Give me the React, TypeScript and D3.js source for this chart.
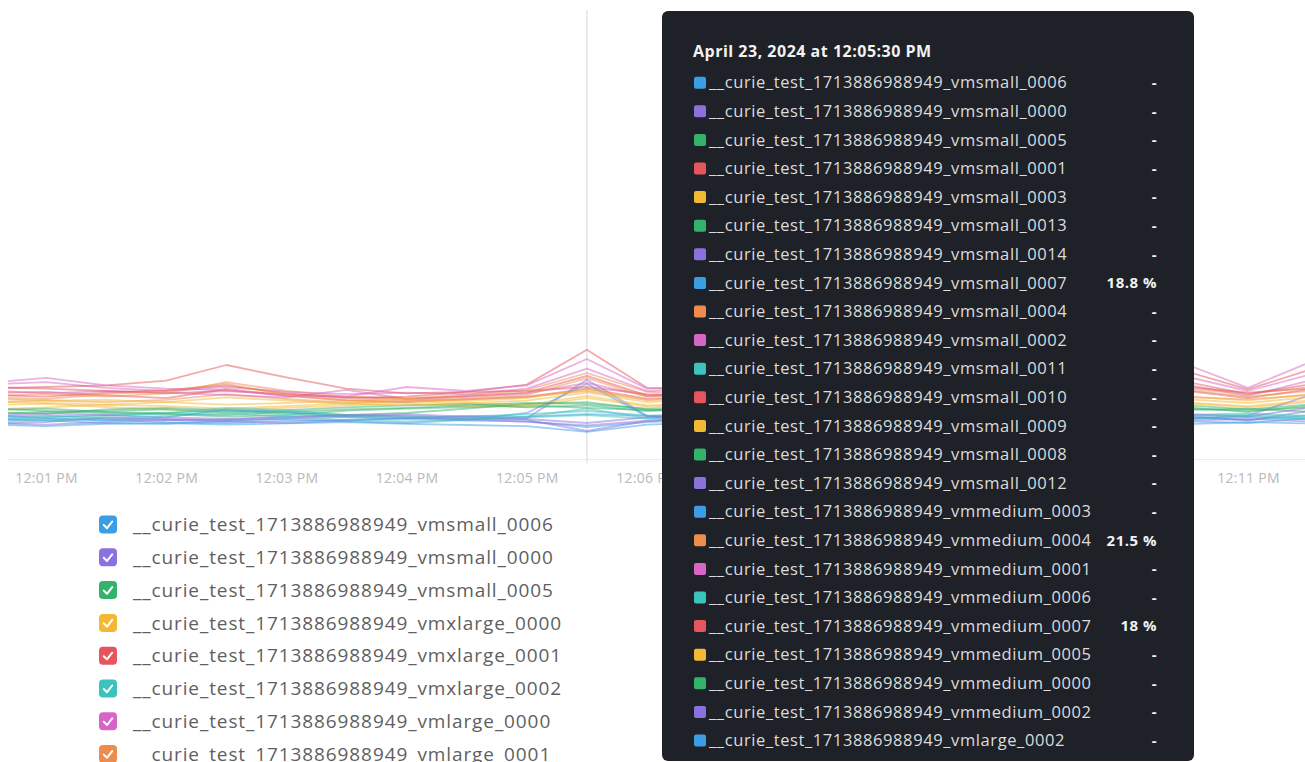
import { useEffect, useRef } from "react";
import * as d3 from "d3";

// samples every 30s, 12:00:30 .. 12:11:30
const sampleTimes = [
  "12:00:30", "12:01:00", "12:01:30", "12:02:00", "12:02:30", "12:03:00",
  "12:03:30", "12:04:00", "12:04:30", "12:05:00", "12:05:30", "12:06:00",
  "12:06:30", "12:07:00", "12:07:30", "12:08:00", "12:08:30", "12:09:00",
  "12:09:30", "12:10:00", "12:10:30", "12:11:00", "12:11:30",
];
const axisTicks = [
  "12:01:00", "12:02:00", "12:03:00", "12:04:00", "12:05:00", "12:06:00",
  "12:07:00", "12:08:00", "12:09:00", "12:10:00", "12:11:00",
];
const hoverTime = "12:05:30";
const hoverTitle = "April 23, 2024 at 12:05:30 PM";
const prefix = "__curie_test_1713886988949_";

// CPU usage (%) per VM
const vmsmall0006 = [9.5, 10, 9.8, 9.2, 9.0, 9.5, 9.8, 10.2, 9.6, 9.4, 8.0, 9.2, 9.8, 10.1, 9.6, 9.9, 10.3, 9.7, 9.5, 10.0, 9.4, 9.0, 10.2];
const vmsmall0000 = [8.8, 9.2, 10.4, 10.0, 9.6, 10.1, 10.6, 10.9, 10.2, 9.8, 7.0, 9.5, 10.3, 10.0, 9.7, 10.4, 10.8, 10.2, 9.9, 10.5, 10.8, 9.6, 12.0];
const vmsmall0005 = [12.8, 12.0, 11.5, 11.2, 10.6, 11.0, 12.1, 12.6, 13.0, 13.4, 12.8, 12.2, 12.5, 13.0, 12.6, 12.1, 12.8, 13.2, 12.7, 12.4, 12.9, 11.8, 13.3];
const vmsmall0001 = [16.5, 16.8, 15.9, 15.2, 17.5, 15.8, 14.6, 14.2, 14.9, 15.5, 17.6, 15.1, 15.6, 16.0, 15.4, 15.8, 16.3, 15.7, 15.2, 16.1, 17.0, 15.2, 17.4];
const vmsmall0003 = [13.5, 13.8, 13.0, 12.4, 12.0, 12.8, 13.4, 13.9, 13.2, 13.0, 15.3, 13.1, 13.6, 14.0, 13.5, 13.2, 13.8, 14.1, 13.6, 13.3, 13.9, 12.9, 14.2];
const vmsmall0013 = [11.8, 11.3, 12.4, 12.8, 12.2, 11.6, 11.0, 11.5, 12.6, 13.8, 14.2, 12.4, 11.9, 12.3, 12.8, 12.2, 11.7, 12.1, 12.6, 12.0, 12.3, 12.6, 11.8];
const vmsmall0014 = [10.5, 10.9, 10.1, 9.7, 9.9, 10.4, 11.0, 10.6, 9.9, 10.2, 19.8, 10.8, 10.2, 10.7, 11.1, 10.5, 10.0, 10.6, 11.0, 10.4, 10.1, 10.9, 15.8];
const vmsmall0007 = [10.2, 9.6, 9.0, 8.8, 9.5, 10.0, 9.4, 9.0, 9.8, 11.5, 18.8, 10.6, 9.9, 9.5, 10.1, 10.6, 10.0, 9.6, 10.2, 10.7, 10.4, 9.8, 10.9];
const vmsmall0004 = [15.0, 14.6, 14.2, 14.8, 16.2, 15.0, 14.0, 14.4, 14.9, 15.6, 17.0, 14.7, 15.2, 15.6, 15.0, 14.6, 15.3, 15.8, 15.1, 14.8, 15.5, 14.9, 16.0];
const vmsmall0002 = [17.2, 16.4, 17.0, 16.6, 16.0, 15.4, 17.3, 15.0, 15.6, 16.4, 19.0, 15.7, 16.2, 16.6, 16.0, 15.5, 16.1, 16.5, 15.9, 16.4, 18.5, 15.8, 19.5];
const vmsmall0011 = [10.0, 10.6, 11.0, 11.6, 12.0, 11.2, 10.4, 10.0, 10.6, 11.2, 12.0, 10.9, 10.5, 11.0, 11.4, 10.8, 10.4, 10.9, 11.3, 10.7, 11.0, 11.4, 10.8];
const vmsmall0010 = [18.0, 17.6, 17.0, 16.4, 17.0, 16.2, 15.5, 15.0, 15.8, 16.6, 20.8, 15.9, 16.5, 17.0, 16.4, 15.9, 16.6, 17.1, 16.5, 16.9, 19.2, 16.2, 18.6];
const vmsmall0009 = [12.4, 12.9, 13.6, 13.2, 12.6, 13.2, 13.9, 14.4, 14.0, 13.5, 15.8, 13.4, 13.9, 14.3, 13.8, 13.4, 14.0, 14.4, 13.9, 13.5, 14.1, 13.2, 14.6];
const vmsmall0008 = [11.2, 11.8, 12.0, 12.4, 11.6, 12.2, 12.9, 13.4, 13.8, 12.9, 13.4, 12.0, 12.6, 13.1, 12.5, 12.0, 12.7, 13.1, 12.4, 12.0, 12.5, 12.1, 12.9];
const vmsmall0012 = [9.0, 8.6, 9.2, 9.8, 9.4, 9.0, 9.6, 10.2, 9.9, 9.3, 8.4, 9.6, 10.1, 9.7, 9.2, 9.8, 10.3, 9.8, 9.3, 9.9, 9.6, 10.0, 9.4];
const vmmedium0003 = [11.0, 10.2, 9.6, 10.4, 12.4, 11.8, 10.6, 10.2, 10.8, 10.6, 11.2, 10.8, 11.3, 10.9, 10.4, 11.0, 11.5, 11.0, 10.6, 11.2, 10.0, 10.5, 9.9];
const vmmedium0004 = [15.8, 16.2, 15.6, 16.4, 19.2, 17.0, 15.6, 15.2, 16.0, 17.2, 21.5, 16.8, 16.2, 16.7, 17.1, 16.5, 16.0, 16.6, 17.0, 16.4, 17.6, 16.3, 18.0];
const vmmedium0001 = [18.6, 19.2, 17.8, 17.0, 18.0, 16.8, 16.2, 16.6, 16.2, 17.6, 22.6, 17.0, 17.5, 17.9, 17.3, 16.9, 17.6, 18.0, 17.4, 17.8, 20.5, 17.0, 21.0];
const vmmedium0006 = [9.8, 10.4, 10.8, 11.4, 12.8, 12.2, 11.0, 10.6, 10.2, 10.4, 11.0, 10.1, 10.6, 11.1, 10.5, 10.1, 10.7, 11.2, 10.6, 10.2, 10.8, 11.1, 10.4];
const vmmedium0007 = [16.0, 15.6, 16.6, 17.2, 18.4, 16.4, 15.2, 15.6, 16.8, 17.0, 18.0, 16.2, 15.8, 16.3, 16.8, 16.2, 15.7, 16.3, 16.7, 16.1, 18.0, 16.6, 17.6];
const vmmedium0005 = [14.4, 14.0, 13.6, 14.2, 15.4, 14.6, 13.8, 13.4, 13.9, 14.6, 16.6, 14.2, 14.7, 15.1, 14.5, 14.1, 14.8, 15.2, 14.6, 14.3, 14.9, 14.0, 15.4];
const vmmedium0000 = [12.2, 12.6, 11.8, 11.4, 11.0, 11.8, 12.4, 12.8, 13.4, 14.0, 13.8, 12.6, 13.1, 13.5, 12.9, 12.5, 13.2, 13.6, 13.0, 12.7, 13.4, 12.4, 13.6];
const vmmedium0002 = [10.8, 11.4, 11.0, 10.4, 10.0, 10.6, 10.9, 11.2, 10.6, 10.0, 9.0, 10.4, 10.9, 11.3, 10.8, 10.3, 10.9, 11.4, 10.8, 10.4, 11.2, 10.6, 12.8];
const vmlarge0002 = [8.6, 8.2, 8.8, 9.0, 8.6, 8.9, 9.2, 8.8, 8.5, 8.2, 6.8, 8.6, 9.1, 8.7, 8.3, 8.9, 9.3, 8.9, 8.4, 9.0, 8.7, 9.2, 8.9];
const vmxlarge0000 = [14.0, 14.6, 14.8, 14.2, 13.6, 14.0, 14.6, 15.0, 14.5, 15.2, 17.4, 14.8, 15.3, 15.7, 15.1, 14.7, 15.4, 15.8, 15.2, 14.9, 15.6, 14.6, 16.2];
const vmxlarge0001 = [17.6, 18.0, 18.4, 19.6, 23.5, 20.4, 17.6, 16.4, 16.8, 18.6, 27.3, 17.8, 17.2, 17.7, 18.2, 17.6, 17.1, 17.8, 18.3, 17.6, 21.8, 17.4, 22.2];
const vmxlarge0002 = [9.2, 9.6, 10.2, 10.8, 11.4, 10.6, 9.8, 9.4, 9.9, 10.6, 12.6, 10.2, 9.7, 10.2, 10.7, 10.1, 9.6, 10.2, 10.7, 10.0, 10.3, 10.7, 10.1];
const vmlarge0000 = [19.0, 20.3, 18.4, 17.6, 17.2, 15.8, 15.6, 18.0, 17.0, 18.4, 25.0, 17.6, 18.1, 18.5, 17.9, 17.4, 18.2, 18.6, 18.0, 18.5, 23.5, 17.8, 24.0];
const vmlarge0001 = [15.4, 15.0, 16.2, 17.0, 18.8, 16.0, 14.8, 14.6, 15.3, 16.0, 20.2, 15.6, 16.1, 16.5, 15.9, 15.4, 16.1, 16.6, 16.0, 15.7, 17.2, 15.6, 17.0];

const palette: Record<string, string> = {
  blue: "#3b9ee4",
  purple: "#8b71de",
  green: "#34b26b",
  yellow: "#f3b834",
  red: "#e4555d",
  teal: "#3bc3bc",
  pink: "#d765c6",
  orange: "#f08b4e",
};

const series = [
  { name: "vmsmall_0006", color: "blue", values: vmsmall0006 },
  { name: "vmsmall_0000", color: "purple", values: vmsmall0000 },
  { name: "vmsmall_0005", color: "green", values: vmsmall0005 },
  { name: "vmsmall_0001", color: "red", values: vmsmall0001 },
  { name: "vmsmall_0003", color: "yellow", values: vmsmall0003 },
  { name: "vmsmall_0013", color: "green", values: vmsmall0013 },
  { name: "vmsmall_0014", color: "purple", values: vmsmall0014 },
  { name: "vmsmall_0007", color: "blue", values: vmsmall0007 },
  { name: "vmsmall_0004", color: "orange", values: vmsmall0004 },
  { name: "vmsmall_0002", color: "pink", values: vmsmall0002 },
  { name: "vmsmall_0011", color: "teal", values: vmsmall0011 },
  { name: "vmsmall_0010", color: "red", values: vmsmall0010 },
  { name: "vmsmall_0009", color: "yellow", values: vmsmall0009 },
  { name: "vmsmall_0008", color: "green", values: vmsmall0008 },
  { name: "vmsmall_0012", color: "purple", values: vmsmall0012 },
  { name: "vmmedium_0003", color: "blue", values: vmmedium0003 },
  { name: "vmmedium_0004", color: "orange", values: vmmedium0004 },
  { name: "vmmedium_0001", color: "pink", values: vmmedium0001 },
  { name: "vmmedium_0006", color: "teal", values: vmmedium0006 },
  { name: "vmmedium_0007", color: "red", values: vmmedium0007 },
  { name: "vmmedium_0005", color: "yellow", values: vmmedium0005 },
  { name: "vmmedium_0000", color: "green", values: vmmedium0000 },
  { name: "vmmedium_0002", color: "purple", values: vmmedium0002 },
  { name: "vmlarge_0002", color: "blue", values: vmlarge0002 },
  { name: "vmxlarge_0000", color: "yellow", values: vmxlarge0000 },
  { name: "vmxlarge_0001", color: "red", values: vmxlarge0001 },
  { name: "vmxlarge_0002", color: "teal", values: vmxlarge0002 },
  { name: "vmlarge_0000", color: "pink", values: vmlarge0000 },
  { name: "vmlarge_0001", color: "orange", values: vmlarge0001 },
];

const legendOrder = [
  "vmsmall_0006", "vmsmall_0000", "vmsmall_0005", "vmxlarge_0000",
  "vmxlarge_0001", "vmxlarge_0002", "vmlarge_0000", "vmlarge_0001",
];
const tooltipOrder = [
  "vmsmall_0006", "vmsmall_0000", "vmsmall_0005", "vmsmall_0001", "vmsmall_0003",
  "vmsmall_0013", "vmsmall_0014", "vmsmall_0007", "vmsmall_0004", "vmsmall_0002",
  "vmsmall_0011", "vmsmall_0010", "vmsmall_0009", "vmsmall_0008", "vmsmall_0012",
  "vmmedium_0003", "vmmedium_0004", "vmmedium_0001", "vmmedium_0006", "vmmedium_0007",
  "vmmedium_0005", "vmmedium_0000", "vmmedium_0002", "vmlarge_0002",
];
// series with a reading shown in the tooltip, the rest show "-"
const tooltipReported = ["vmsmall_0007", "vmmedium_0004", "vmmedium_0007"];

const W = 1305;
const H = 762;
const FONT = "'Open Sans', 'DejaVu Sans', sans-serif";
const TIP = { x: 662, y: 11, w: 532, h: 750 };

export default function App() {
  const ref = useRef<SVGSVGElement>(null);

  useEffect(() => {
    if (!ref.current) return;
    const svg = d3.select(ref.current);
    svg.selectAll("*").remove();

    const parse = d3.timeParse("%H:%M:%S");
    const times = sampleTimes.map((t) => parse(t) as Date);
    const hover = parse(hoverTime) as Date;
    const hoverIdx = sampleTimes.indexOf(hoverTime);

    const x = d3
      .scaleTime()
      .domain([parse("12:01:00") as Date, parse("12:11:00") as Date])
      .range([46, 1248]);
    const y = d3.scaleLinear().domain([0, 30]).range([459, 339]);

    svg.append("rect").attr("width", W).attr("height", H).attr("fill", "#fff");

    svg
      .append("clipPath")
      .attr("id", "plot-clip")
      .append("rect")
      .attr("x", 8)
      .attr("y", 0)
      .attr("width", W - 8)
      .attr("height", 459);

    svg
      .append("line")
      .attr("x1", 8)
      .attr("x2", W)
      .attr("y1", 459.5)
      .attr("y2", 459.5)
      .attr("stroke", "#ececec");

    // crosshair
    svg
      .append("line")
      .attr("x1", x(hover))
      .attr("x2", x(hover))
      .attr("y1", 10)
      .attr("y2", 463)
      .attr("stroke", "#d9d9d9");

    const line = d3
      .line<number>()
      .x((_, i) => x(times[i]))
      .y((d) => y(d));

    svg
      .append("g")
      .attr("clip-path", "url(#plot-clip)")
      .selectAll("path")
      .data(series)
      .join("path")
      .attr("d", (s) => line(s.values))
      .attr("fill", "none")
      .attr("stroke", (s) => palette[s.color])
      .attr("stroke-opacity", 0.5)
      .attr("stroke-width", 1.8)
      .attr("stroke-linejoin", "round");

    // ticks that end up fully under the tooltip are not drawn
    const visibleTicks = axisTicks
      .map((t) => parse(t) as Date)
      .filter((d) => x(d) + 30 < TIP.x + 30 || x(d) - 30 > TIP.x + TIP.w);

    const axis = svg
      .append("g")
      .attr("transform", "translate(0,459)")
      .call(
        d3
          .axisBottom(x)
          .tickValues(visibleTicks)
          .tickFormat((d) => d3.timeFormat("%-I:%M %p")(d as Date))
          .tickSize(0)
          .tickPadding(14)
      );
    axis.select(".domain").remove();
    axis
      .selectAll("text")
      .attr("fill", "#b9b9b9")
      .attr("font-size", 14)
      .attr("letter-spacing", 0.3)
      .attr("font-family", FONT);

    // legend
    const byName = new Map(series.map((s) => [s.name, s]));
    const legend = svg
      .append("g")
      .selectAll("g")
      .data(legendOrder)
      .join("g")
      .attr("transform", (_, i) => `translate(99,${524.5 + i * 32.8})`);
    legend
      .append("rect")
      .attr("x", 0)
      .attr("y", -9)
      .attr("width", 18)
      .attr("height", 18)
      .attr("rx", 4)
      .attr("fill", (n) => palette[byName.get(n)!.color]);
    legend
      .append("path")
      .attr("d", "M4.8,0.5 L8,3.7 L13.2,-3")
      .attr("fill", "none")
      .attr("stroke", "#fff")
      .attr("stroke-width", 2)
      .attr("stroke-linecap", "round")
      .attr("stroke-linejoin", "round");
    legend
      .append("text")
      .attr("x", 34)
      .attr("dy", "0.35em")
      .attr("font-family", FONT)
      .attr("font-size", 19)
      .attr("letter-spacing", 0.9)
      .attr("fill", "#5f5f5f")
      .text((n) => prefix + n);

    // tooltip
    const tip = svg.append("g");
    tip
      .append("rect")
      .attr("x", TIP.x)
      .attr("y", TIP.y)
      .attr("width", TIP.w)
      .attr("height", TIP.h)
      .attr("rx", 6)
      .attr("fill", "#1e2128");
    tip
      .append("text")
      .attr("x", 693)
      .attr("y", 51)
      .attr("dy", "0.35em")
      .attr("font-family", FONT)
      .attr("font-size", 16)
      .attr("letter-spacing", 0.5)
      .attr("font-weight", 700)
      .attr("fill", "#f2f2f2")
      .text(hoverTitle);

    const rows = tip
      .selectAll("g.row")
      .data(tooltipOrder)
      .join("g")
      .attr("class", "row")
      .attr("transform", (_, i) => `translate(0,${82.7 + i * 28.6})`);
    rows
      .append("rect")
      .attr("x", 694)
      .attr("y", -6)
      .attr("width", 12)
      .attr("height", 12)
      .attr("rx", 2)
      .attr("fill", (n) => palette[byName.get(n)!.color]);
    rows
      .append("text")
      .attr("x", 709)
      .attr("dy", "0.35em")
      .attr("font-family", FONT)
      .attr("font-size", 16.5)
      .attr("letter-spacing", 0.6)
      .attr("fill", "#dcdcdc")
      .text((n) => prefix + n);
    rows
      .append("text")
      .attr("x", 1157)
      .attr("dy", "0.35em")
      .attr("text-anchor", "end")
      .attr("font-family", FONT)
      .attr("font-size", 15)
      .attr("letter-spacing", 0.5)
      .attr("font-weight", 700)
      .attr("fill", "#f2f2f2")
      .text((n) =>
        tooltipReported.includes(n)
          ? `${+byName.get(n)!.values[hoverIdx].toFixed(1)} %`
          : "-"
      );
  }, []);

  return (
    <svg
      ref={ref}
      width={W}
      height={H}
      style={{ position: "absolute", left: 0, top: 0 }}
    />
  );
}
